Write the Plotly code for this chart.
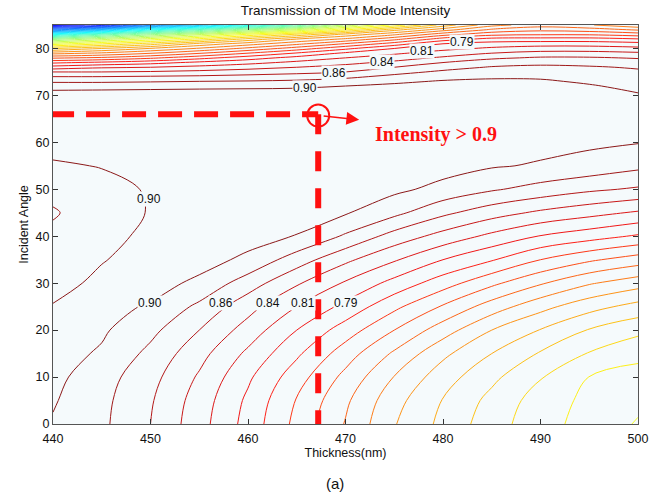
import plotly.graph_objects as go

# ---------------- data ----------------
thickness_nm = [440, 445, 450, 455, 460, 465, 470, 475, 480, 485, 490, 495, 500]
incident_angle = [0, 5, 10, 15, 20, 25, 30, 35, 40, 45, 50, 55, 60, 65,
                  68, 70, 71, 72, 73, 74, 75, 76, 77, 78, 79, 80, 81, 82, 83, 84, 85]

# transmission intensity, one row per incident angle (estimated from the contour lines)
intensity_rows = [
    [.901, .885, .858, .822, .782, .739, .699, .657, .627, .598, .574, .557, .541],
    [.905, .8865, .8604, .8253, .786, .744, .7047, .6635, .6319, .6038, .5777, .5598, .548],
    [.909, .8902, .8657, .8326, .7945, .7554, .7166, .6772, .6431, .6159, .5896, .5651, .558],
    [.912, .9002, .8746, .8434, .8083, .7721, .7339, .6969, .6606, .633, .6083, .5865, .571],
    [.909, .9063, .8866, .858, .8259, .7905, .7571, .723, .6886, .6555, .632, .609, .594],
    [.904, .910, .9007, .8756, .8439, .813, .7841, .751, .7205, .6898, .663, .6412, .625],
    [.897, .907, .912, .898, .8693, .8383, .8102, .783, .7558, .7282, .703, .6803, .665],
    [.893, .902, .910, .912, .898, .8693, .8405, .8155, .7905, .770, .7455, .7267, .712],
    [.886, .896, .908, .913, .912, .902, .8773, .849, .8273, .8074, .7893, .7775, .765],
    [.878, .895, .904, .912, .915, .913, .905, .8866, .863, .8451, .8312, .8205, .810],
    [.888, .896, .905, .912, .916, .916, .913, .908, .8964, .8831, .8723, .8621, .855],
    [.900, .904, .909, .913, .916, .917, .917, .915, .912, .905, .9008, .895, .886],
    [.912, .910, .911, .914, .916, .918, .918, .917, .915, .912, .910, .907, .904],
    [.912, .913, .914, .916, .917, .918, .919, .919, .918, .917, .916, .915, .913],
    [.909, .910, .910, .911, .912, .913, .914, .915, .916, .917, .916, .914, .910],
    [.907, .908, .909, .910, .911, .912, .913, .914, .915, .916, .915, .912, .905],
    [.904, .905, .906, .907, .908, .909, .910, .912, .913, .914, .913, .909, .9013],
    [.8925, .8925, .894, .8955, .896, .8977, .903, .908, .910, .911, .910, .905, .897],
    [.877, .877, .8786, .8805, .8819, .8845, .8898, .8983, .905, .907, .906, .8996, .8926],
    [.858, .858, .8599, .8618, .8649, .8684, .8753, .8864, .8948, .8995, .8994, .894, .8883],
    [.8355, .8355, .8378, .8416, .8468, .8516, .858, .873, .8846, .8909, .8921, .8884, .8839],
    [.800, .8098, .813, .8198, .8273, .8355, .8439, .858, .872, .8823, .8849, .8828, .8784],
    [.764, .7725, .7823, .7955, .8063, .8182, .8291, .8407, .858, .8693, .8749, .873, .8676],
    [.720, .7272, .7413, .7605, .7801, .7987, .813, .825, .8393, .8543, .8608, .8605, .8563],
    [.670, .6813, .6991, .7212, .7455, .7697, .7943, .8093, .8226, .8355, .843, .843, .839],
    [.609, .633, .6569, .6806, .7064, .7338, .7628, .7905, .8066, .8168, .8232, .8232, .8191],
    [.530, .5644, .5988, .640, .6673, .6947, .7244, .7559, .7905, .8001, .8028, .8028, .7987],
    [.445, .4877, .530, .5713, .618, .6556, .6822, .716, .7559, .7755, .7766, .7766, .7697],
    [.334, .3925, .4454, .4933, .5463, .5928, .640, .6738, .7134, .7386, .7429, .7424, .7344],
    [.195, .255, .3344, .3886, .450, .4986, .5614, .625, .6675, .7043, .7164, .7112, .6972],
    [.080, .100, .200, .260, .330, .390, .480, .550, .620, .670, .690, .680, .660],
]

# contour levels: top level and spacing
top_level = 0.903
level_step = 0.0225
n_levels = 41

# inline contour labels (text and where they sit on the lines)
label_text = ["0.90", "0.90", "0.86", "0.84", "0.81", "0.79",
              "0.90", "0.86", "0.84", "0.81", "0.79"]
label_x = [449.8, 449.9, 457.2, 462.0, 465.6, 470.0,
           465.8, 468.8, 473.7, 477.8, 481.9]
label_y = [47.9, 25.7, 25.7, 25.7, 25.7, 25.7,
           71.6, 74.8, 77.2, 79.5, 81.4]

# highlighted operating point
mark_thickness = 467.2
mark_angle = 66
x_ticks = [440, 450, 460, 470, 480, 490, 500]
y_ticks = [0, 10, 20, 30, 40, 50, 60, 70, 80]

# ---------------- figure ----------------
PLOT_BG = "#f5fafc"
FONT = "Liberation Sans, Arial, Helvetica, sans-serif"
JET = [[0.0, "rgb(0,0,143)"], [0.11, "rgb(0,0,255)"], [0.36, "rgb(0,255,255)"],
       [0.61, "rgb(255,255,0)"], [0.86, "rgb(255,0,0)"], [1.0, "rgb(128,0,0)"]]

fig = go.Figure()
fig.add_trace(go.Contour(
    x=thickness_nm, y=incident_angle, z=intensity_rows,
    autocontour=False,
    contours=dict(start=top_level - level_step * (n_levels - 1),
                  end=top_level + 1e-6, size=level_step,
                  coloring="lines", showlabels=False),
    colorscale=JET, zmin=-0.1, zmax=0.93,
    line=dict(width=1.0, smoothing=1.0),
    opacity=0.9,
    showscale=False, hoverinfo="skip",
))

# dashed guide lines
fig.add_shape(type="line", xref="x", yref="y",
              x0=thickness_nm[0] - 0.3, x1=mark_thickness, y0=mark_angle, y1=mark_angle,
              line=dict(color="#ff1010", width=6, dash="24px,12px"))
fig.add_shape(type="line", xref="x", yref="y",
              x0=mark_thickness, x1=mark_thickness, y0=mark_angle, y1=-0.8,
              line=dict(color="#ff1010", width=6, dash="20px,17px"))
# circle around the point
fig.add_shape(type="circle", xref="x", yref="y", xsizemode="pixel", ysizemode="pixel",
              xanchor=mark_thickness, yanchor=mark_angle - 0.3,
              x0=-11, x1=11, y0=-11, y1=11,
              line=dict(color="#ff1010", width=2))

annotations = []
for t, lx, ly in zip(label_text, label_x, label_y):
    annotations.append(dict(x=lx, y=ly, xref="x", yref="y", text=t, showarrow=False,
                            font=dict(family=FONT, size=12, color="#111"),
                            bgcolor=PLOT_BG, borderpad=0))

# arrow and annotation text
annotations.append(dict(x=471.4, y=64.8, xref="x", yref="y", ax=-37, ay=-4,
                        axref="pixel", ayref="pixel", text="", showarrow=True,
                        arrowhead=2, arrowsize=1.7, arrowwidth=1.5, arrowcolor="#ff1010"))
annotations.append(dict(x=472.8, y=61.6, xref="x", yref="y", text="<b>Intensity &gt; 0.9</b>",
                        showarrow=False, xanchor="left",
                        font=dict(family="Liberation Serif, Times New Roman, serif",
                                  size=20, color="#ff1010")))
annotations.append(dict(x=0.482, y=-0.15, xref="paper", yref="paper", text="(a)",
                        showarrow=False, yanchor="middle",
                        font=dict(family=FONT, size=15, color="#111")))

fig.update_layout(
    width=660, height=493,
    margin=dict(l=53, r=22, t=25, b=69),
    paper_bgcolor="white", plot_bgcolor=PLOT_BG,
    showlegend=False,
    title=dict(text="Transmission of TM Mode Intensity", x=0.5, xref="paper",
               y=0.979, yanchor="middle",
               font=dict(family=FONT, size=13.5, color="#111")),
    annotations=annotations,
    font=dict(family=FONT, size=12, color="#111"),
)
fig.update_xaxes(range=[440, 500], tickvals=x_ticks, ticks="inside", ticklen=5,
                 tickcolor="#333", showline=True, linecolor="#555", linewidth=1,
                 mirror="ticks", showgrid=False, zeroline=False, ticklabelstandoff=3,
                 tickfont=dict(family=FONT, size=12.5, color="#111"),
                 title=dict(text="Thickness(nm)", standoff=2,
                            font=dict(family=FONT, size=12.5, color="#111")))
fig.update_yaxes(range=[0, 85], tickvals=y_ticks, ticks="inside", ticklen=5,
                 tickcolor="#333", showline=True, linecolor="#555", linewidth=1,
                 mirror="ticks", showgrid=False, zeroline=False,
                 tickfont=dict(family=FONT, size=12.5, color="#111"),
                 title=dict(text="Incident Angle", standoff=4,
                            font=dict(family=FONT, size=12.5, color="#111")))

fig.write_html("out.html")
